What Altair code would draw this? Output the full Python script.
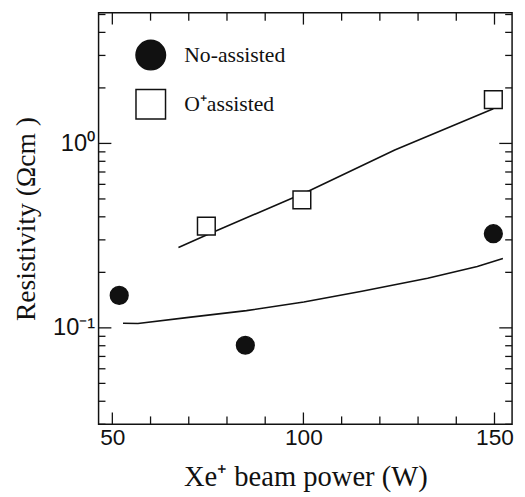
import altair as alt
import pandas as pd

# measured points
no_x = [51.8, 84.8, 149.7]
no_y = [0.150, 0.0805, 0.324]
o_x = [74.6, 99.6, 149.7]
o_y = [0.356, 0.494, 1.726]

# fitted curves
no_fit_x = [52.8, 56.7, 70.0, 85.1, 100.1, 115.3, 132.5, 145.5, 152.2]
no_fit_y = [0.106, 0.1056, 0.114, 0.124, 0.138, 0.158, 0.186, 0.215, 0.238]
o_fit_x = [67.3, 74.5, 101.4, 123.9, 149.7]
o_fit_y = [0.273, 0.318, 0.552, 0.922, 1.54]

series_names = ["No-assisted", "O\u207aassisted"]

x_major = [50, 100, 150]
x_minor = [60, 70, 80, 90, 110, 120, 130, 140]
y_major = [0.1, 1]
y_minor = [0.03, 0.04, 0.05, 0.06, 0.07, 0.08, 0.09,
           0.2, 0.3, 0.4, 0.5, 0.6, 0.7, 0.8, 0.9, 2, 3, 4, 5]

W, H = 420, 418
INK = "#111111"

pts = pd.DataFrame({
    "x": no_x + o_x,
    "y": no_y + o_y,
    "series": [series_names[0]] * len(no_x) + [series_names[1]] * len(o_x),
})
no_fit = pd.DataFrame({"x": no_fit_x, "y": no_fit_y})
o_fit = pd.DataFrame({"x": o_fit_x, "y": o_fit_y})

xs = alt.Scale(domain=[46.4, 154.6], nice=False, zero=False)
ys = alt.Scale(type="log", domain=[0.030, 5.11], nice=False)

# label axes
x_lab = alt.Axis(orient="bottom", values=x_major, ticks=False, tickSize=0, domain=False,
                 grid=False, labelFont="Liberation Sans", labelFontSize=23, labelColor=INK,
                 labelPadding=3, title="Xe\u207a beam power (W)", titleFont="Liberation Serif",
                 titleFontSize=29, titleFontWeight="normal", titleColor=INK, titlePadding=13)
y_lab = alt.Axis(orient="left", values=y_major, ticks=False, tickSize=0, domain=False,
                 grid=False, labelFont="Liberation Sans", labelFontSize=24, labelColor=INK,
                 labelPadding=4,
                 labelExpr="datum.value == 1 ? '10\u2070' : '10\u207b\u00b9'",
                 title="Resistivity (\u03a9cm )", titleFont="Liberation Serif",
                 titleFontSize=28, titleFontWeight="normal", titleColor=INK, titlePadding=12)

o_line = alt.Chart(o_fit).mark_line(color=INK, strokeWidth=1.6).encode(
    x=alt.X("x:Q", scale=xs, axis=x_lab),
    y=alt.Y("y:Q", scale=ys, axis=y_lab),
)
no_line = alt.Chart(no_fit).mark_line(color=INK, strokeWidth=1.6).encode(
    x=alt.X("x:Q", scale=xs),
    y=alt.Y("y:Q", scale=ys),
)


# inward ticks on all four sides, placed by the shared scales
def xticks(values, length, top):
    y0, y1 = (0, length) if top else (H, H - length)
    return alt.Chart(pd.DataFrame({"x": values})).mark_rule(
        color=INK, strokeWidth=1.3).encode(
        x=alt.X("x:Q", scale=xs), y=alt.value(y0), y2=alt.value(y1))


def yticks(values, length, right):
    x0, x1 = (W, W - length) if right else (0, length)
    return alt.Chart(pd.DataFrame({"y": values})).mark_rule(
        color=INK, strokeWidth=1.3).encode(
        y=alt.Y("y:Q", scale=ys), x=alt.value(x0), x2=alt.value(x1))


tick_layers = [
    xticks(x_major, 12, False), xticks(x_minor, 8, False),
    xticks(x_major, 12, True), xticks(x_minor, 8, True),
    yticks(y_major, 13, False), yticks(y_minor, 7, False),
    yticks(y_major, 13, True), yticks(y_minor, 7, True),
]

leg = dict(orient="none", legendX=37, legendY=27, title=None, padding=0,
           rowPadding=14, labelOffset=18, labelFont="Liberation Serif",
           labelFontSize=22, labelColor=INK, symbolSize=900,
           symbolStrokeColor=INK, symbolStrokeWidth=1.5, symbolOpacity=1)

points = alt.Chart(pts).mark_point(filled=True, size=324, strokeWidth=1.5, opacity=1).encode(
    x=alt.X("x:Q", scale=xs),
    y=alt.Y("y:Q", scale=ys),
    shape=alt.Shape("series:N", scale=alt.Scale(domain=series_names,
                                                range=["circle", "square"]),
                    legend=alt.Legend(**leg)),
    fill=alt.Fill("series:N", scale=alt.Scale(domain=series_names,
                                              range=[INK, "#ffffff"]),
                  legend=alt.Legend(**leg)),
    stroke=alt.Stroke("series:N", scale=alt.Scale(domain=series_names,
                                                  range=[INK, INK]),
                      legend=alt.Legend(**leg)),
)

chart = alt.layer(o_line, no_line, *tick_layers, points).properties(
    width=W, height=H,
    autosize=alt.AutoSizeParams(type="none"),
    padding={"left": 92, "top": 1, "right": 5, "bottom": 70},
    background="white",
).configure_view(stroke=INK, strokeWidth=1.5)

chart.save("out.html", embed_options={"renderer": "svg", "actions": False})
